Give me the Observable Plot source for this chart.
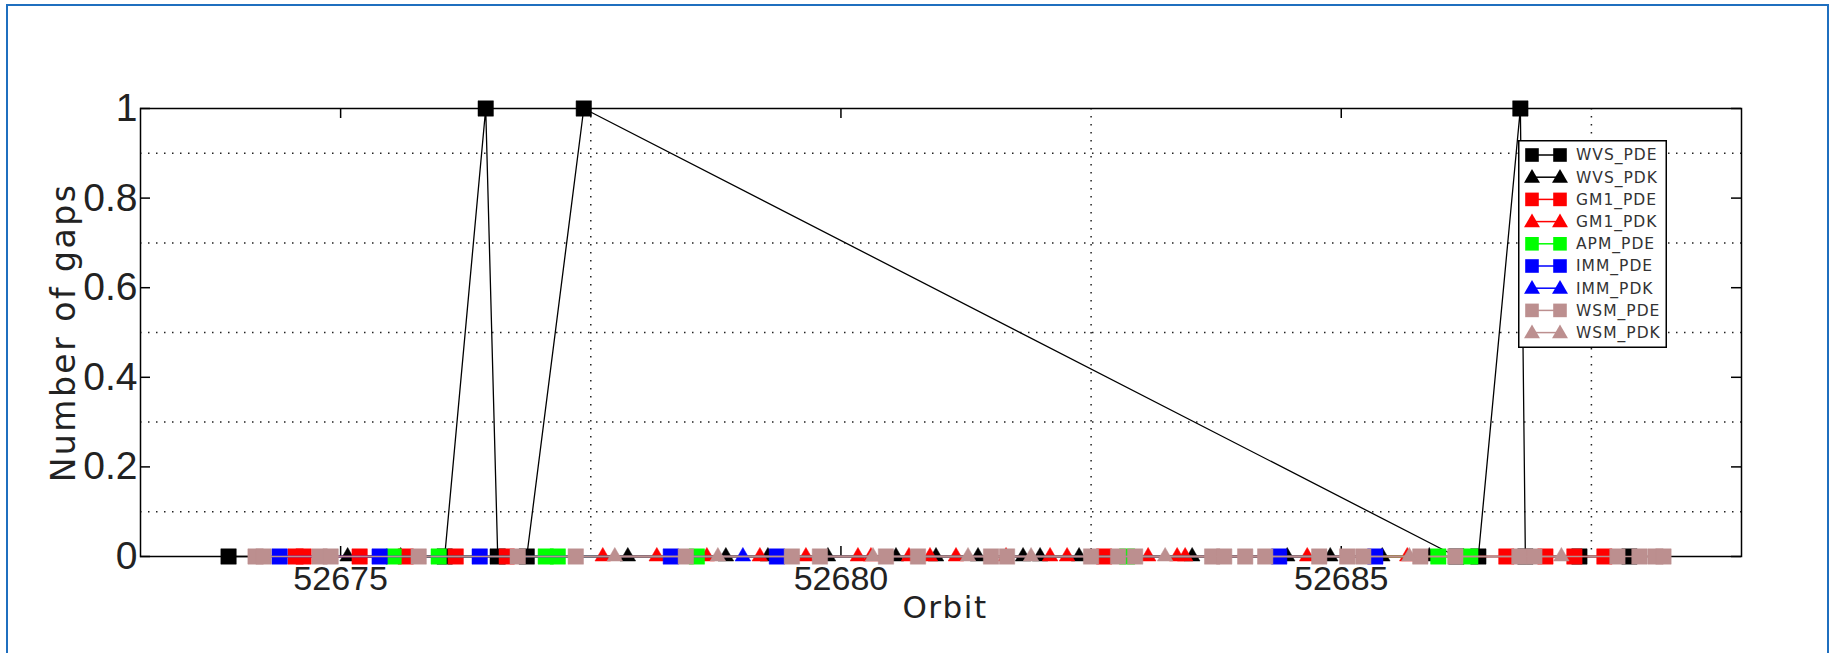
<!DOCTYPE html>
<html><head><meta charset="utf-8">
<script src="https://cdn.jsdelivr.net/npm/d3@7"></script>
<script src="https://cdn.jsdelivr.net/npm/@observablehq/plot@0.6"></script>
<style>
html,body{margin:0;padding:0;background:#fff;}
#wrap{position:relative;width:1835px;height:653px;overflow:hidden;}
#border{position:absolute;left:6px;top:4px;width:1823px;height:700px;border:2.5px solid #1f6fbf;box-sizing:border-box;pointer-events:none;}
#legend{position:absolute;left:1518px;top:140px;width:149px;height:208px;}
</style></head><body>
<div id="wrap"><div id="chart"></div><div id="legend"></div><div id="border"></div></div>
<script>
// ---- axis ticks / grid ----
const xTicks = [52675, 52680, 52685];
const xGrid = [52677.5, 52682.5, 52687.5];
const yTicks = [0, 0.2, 0.4, 0.6, 0.8, 1];
const yGrid = [0.1, 0.3, 0.5, 0.7, 0.9];

// ---- series meta ----
const seriesNames = ["WVS_PDE","WVS_PDK","GM1_PDE","GM1_PDK","APM_PDE","IMM_PDE","IMM_PDK","WSM_PDE","WSM_PDK"];
const seriesColors = ["#000000","#000000","#ff0000","#ff0000","#00ff00","#0000ff","#0000ff","#bc8f8f","#bc8f8f"];
const seriesSymbols = ["square","triangle","square","triangle","square","square","triangle","square","triangle"];

// ---- series values (orbit, number of gaps) ----
const wvsPdeOrbit = [52673.88, 52676.04, 52676.45, 52676.57, 52676.86, 52677.43, 52686.15, 52686.37, 52686.79, 52686.84, 52687.38, 52687.88];
const wvsPdeGaps  = [0, 0, 1, 0, 0, 1, 0, 0, 1, 0, 0, 0];

const wvsPdkOrbit = [52675.07, 52675.60, 52677.87, 52678.85, 52679.27, 52679.87, 52680.55, 52680.95, 52681.37, 52681.82, 52681.99, 52682.38, 52683.51, 52684.46, 52684.89, 52685.41, 52685.88];
const wvsPdkGaps  = [0, 0, 0, 0, 0, 0, 0, 0, 0, 0, 0, 0, 0, 0, 0, 0, 0];

const gm1PdeOrbit = [52674.55, 52674.63, 52675.19, 52675.65, 52676.15, 52676.66, 52682.63, 52686.65, 52687.04, 52687.33, 52687.63];
const gm1PdeGaps  = [0, 0, 0, 0, 0, 0, 0, 0, 0, 0, 0];

const gm1PdkOrbit = [52677.62, 52678.16, 52678.66, 52679.19, 52679.65, 52680.17, 52680.30, 52680.68, 52680.89, 52681.15, 52681.65, 52682.09, 52682.26, 52683.07, 52683.36, 52683.44, 52684.66, 52685.66];
const gm1PdkGaps  = [0, 0, 0, 0, 0, 0, 0, 0, 0, 0, 0, 0, 0, 0, 0, 0, 0, 0];

const apmPdeOrbit = [52675.53, 52675.98, 52677.05, 52677.17, 52678.56, 52682.86, 52685.97, 52686.29];
const apmPdeGaps  = [0, 0, 0, 0, 0, 0, 0, 0];

const immPdeOrbit = [52674.39, 52675.39, 52676.39, 52678.30, 52679.36, 52684.38, 52685.34];
const immPdeGaps  = [0, 0, 0, 0, 0, 0, 0];

const immPdkOrbit = [52679.02];
const immPdkGaps  = [0];

const wsmPdeOrbit = [52674.15, 52674.23, 52674.79, 52674.90, 52675.78, 52676.77, 52677.35, 52678.45, 52679.51, 52679.79, 52680.45, 52680.77, 52681.50, 52681.66, 52682.50, 52682.77, 52682.94, 52683.71, 52683.83, 52684.04, 52684.24, 52684.78, 52685.06, 52685.22, 52685.79, 52686.14, 52686.78, 52686.93, 52687.76, 52687.98, 52688.14, 52688.22];
const wsmPdeGaps  = wsmPdeOrbit.map(() => 0);

const wsmPdkOrbit = [52677.74, 52678.77, 52680.32, 52681.27, 52681.90, 52683.24, 52685.68, 52687.20];
const wsmPdkGaps  = [0, 0, 0, 0, 0, 0, 0, 0];

const orbitLists = [wvsPdeOrbit, wvsPdkOrbit, gm1PdeOrbit, gm1PdkOrbit, apmPdeOrbit, immPdeOrbit, immPdkOrbit, wsmPdeOrbit, wsmPdkOrbit];
const gapLists   = [wvsPdeGaps, wvsPdkGaps, gm1PdeGaps, gm1PdkGaps, apmPdeGaps, immPdeGaps, immPdkGaps, wsmPdeGaps, wsmPdkGaps];

const series = seriesNames.map((name, i) => ({
  name, color: seriesColors[i], symbol: seriesSymbols[i],
  rows: orbitLists[i].map((o, j) => ({orbit: o, gaps: gapLists[i][j]}))
}));

const seriesMarks = series.flatMap(s => [
  Plot.line(s.rows, {x: "orbit", y: "gaps", stroke: s.color, strokeWidth: 1.3}),
  Plot.dot(s.rows, {x: "orbit", y: "gaps", symbol: s.symbol, fill: s.color, stroke: s.color, strokeWidth: 0.5, r: s.symbol === "square" ? 8.7 : 5.8})
]);

const tickFont = "'Liberation Sans', Arial, sans-serif";

const chart = Plot.plot({
  width: 1835, height: 653,
  marginLeft: 140, marginRight: 94, marginTop: 108, marginBottom: 97,
  style: {fontFamily: "'DejaVu Sans', sans-serif", color: "#222", background: "transparent"},
  x: {domain: [52673, 52689]},
  y: {domain: [0, 1]},
  marks: [
    Plot.ruleY(yGrid, {y: d => d, stroke: "#222", strokeWidth: 1.5, strokeDasharray: "1.5,6.5"}),
    Plot.ruleX(xGrid, {x: d => d, stroke: "#222", strokeWidth: 1.5, strokeDasharray: "1.5,6.5"}),
    Plot.frame({stroke: "#000", strokeWidth: 1.5}),
    Plot.ruleX(xTicks, {x: d => d, insetTop: 438, stroke: "#000", strokeWidth: 1.5}),
    Plot.ruleX(xTicks, {x: d => d, insetBottom: 438, stroke: "#000", strokeWidth: 1.5}),
    Plot.ruleY(yTicks, {y: d => d, insetRight: 1591, stroke: "#000", strokeWidth: 1.5}),
    Plot.ruleY(yTicks, {y: d => d, insetLeft: 1591, stroke: "#000", strokeWidth: 1.5}),
    Plot.axisX(xTicks, {tickSize: 0, tickPadding: 9, fontSize: 34, fontFamily: tickFont, fill: "#222", tickFormat: d => String(d), label: null}),
    Plot.axisY(yTicks, {tickSize: 0, tickPadding: 3, fontSize: 39, fontFamily: tickFont, fill: "#222", tickFormat: d => String(d), label: null}),
    Plot.text(["Number of gaps"], {text: d => d, frameAnchor: "left", textAnchor: "middle", lineAnchor: "middle", dx: -76, rotate: -90, fontSize: 33}),
    Plot.text(["Orbit"], {text: d => d, frameAnchor: "bottom", textAnchor: "middle", lineAnchor: "middle", dx: 4, dy: 52, fontSize: 31}),
    ...seriesMarks
  ]
});
document.getElementById("chart").appendChild(chart);
chart.querySelectorAll("text").forEach(t => {
  if (t.textContent === "Number of gaps") t.style.letterSpacing = "2.5px";
  if (t.textContent === "Orbit") t.style.letterSpacing = "1.5px";
});

// ---- legend ----
const lg = d3.select("#legend").append("svg").attr("width", 149).attr("height", 208);
lg.append("rect").attr("x", 0.75).attr("y", 0.75).attr("width", 147.5).attr("height", 206.5)
  .attr("fill", "#fff").attr("stroke", "#000").attr("stroke-width", 1.5);
series.forEach((s, i) => {
  const cy = 15 + i * 22.2;
  const g = lg.append("g");
  g.append("line").attr("x1", 14).attr("x2", 42).attr("y1", cy).attr("y2", cy).attr("stroke", s.color).attr("stroke-width", 1.5);
  const sym = d3.symbol().type(s.symbol === "square" ? d3.symbolSquare : d3.symbolTriangle).size(s.symbol === "square" ? 185 : 110);
  [14, 42].forEach(cx => g.append("path").attr("d", sym()).attr("transform", `translate(${cx},${cy + (s.symbol === "triangle" ? 1 : 0)})`).attr("fill", s.color));
  g.append("text").attr("x", 58).attr("y", cy).attr("dy", "0.35em").attr("font-family", "'DejaVu Sans', sans-serif").attr("font-size", 15.5).attr("letter-spacing", "1px").attr("fill", "#333").text(s.name);
});
</script>
</body></html>
